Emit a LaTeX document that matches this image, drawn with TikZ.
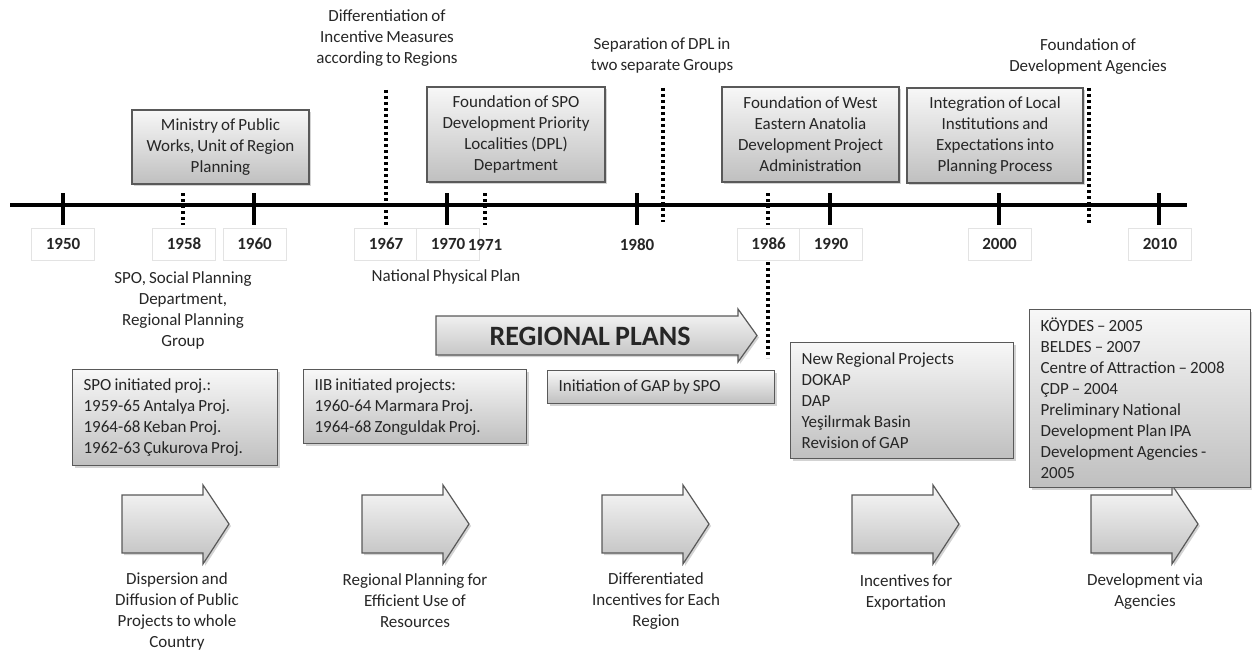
\documentclass[tikz,border=0pt]{standalone}
\usepackage{fontspec}
\setmainfont{Carlito}[WordSpace=0.8]
\usetikzlibrary{shadows}
\begin{document}
\begin{tikzpicture}[x=1pt,y=-1pt,
  every node/.style={font=\fontsize{17}{21}\selectfont, text=black!85},
  shade/.style={draw=black!65, line width=1.2pt, top color=gray!6, bottom color=gray!50,
    drop shadow={shadow xshift=2pt, shadow yshift=-2pt, opacity=.35}},
  gbox/.style={shade, inner sep=0pt, align=center},
  lbox/.style={shade, inner ysep=0pt, inner xsep=11pt, align=flush left, anchor=north west},
  yearbox/.style={draw=gray!22, fill=white, minimum width=63pt, minimum height=32pt, inner sep=0pt,
    font=\bfseries\fontsize{17}{21}\selectfont},
  yeartext/.style={inner sep=0pt, font=\bfseries\fontsize{17}{21}\selectfont},
  tickline/.style={line width=4pt, black},
  dotline/.style={line width=3.2pt, dash pattern=on 3pt off 3pt, black},
  barrow/.style={shade}
]
\useasboundingbox (0,0) rectangle (1252,650);

% axis
\draw[line width=4pt] (10,205) -- (1187,205);
\foreach \xx in {63,254,447,637,830,999,1159}
  \draw[tickline] (\xx,193) -- (\xx,225);

% dotted markers
\draw[dotline] (183,193) -- (183,225);
\draw[dotline] (386,90) -- (386,225);
\draw[dotline] (485,193) -- (485,225);
\draw[dotline] (663,88) -- (663,222);
\draw[dotline] (768,193) -- (768,225);
\draw[dotline] (768,262) -- (768,358);
\draw[dotline] (1089,88) -- (1089,225);

% year labels
\foreach \yr/\xx in {1950/63,1958/184,1960/254.5,1967/386,1970/448,1986/768.5,1990/831,2000/999.5,2010/1160}
  \node[yearbox] (y\yr) at (\xx,244) {\yr};
\node[yeartext] (y1971) at (485,245) {1971};
\node[yeartext] (y1980) at (637,245) {1980};

% free texts
\node[align=center, inner sep=0pt] (diff) at (387,38.5) {Differentiation of\\Incentive Measures\\according to Regions};
\node[align=center, inner sep=0pt] (sep) at (662,55.5) {Separation of DPL in\\two separate Groups};
\node[align=center, inner sep=0pt] (fda) at (1088,57) {Foundation of\\Development Agencies};
\node[align=center, inner sep=0pt] (spo) at (183,310) {SPO, Social Planning\\Department,\\Regional Planning\\Group};
\node[inner sep=0pt] (npp) at (446,277) {National Physical Plan};

% top boxes
\node[gbox, minimum width=177pt, minimum height=74pt] (mpw) at (220.5,147) {Ministry of Public\\Works, Unit of Region\\Planning};
\node[gbox, minimum width=178pt, minimum height=95pt] (fspo) at (516,134.5) {Foundation of SPO\\Development Priority\\Localities (DPL)\\Department};
\node[gbox, minimum width=177pt, minimum height=95pt] (west) at (810.5,134.5) {Foundation of West\\Eastern Anatolia\\Development Project\\Administration};
\node[gbox, minimum width=176pt, minimum height=95pt] (integ) at (995,135.5) {Integration of Local\\Institutions and\\Expectations into\\Planning Process};

% regional plans arrow
\path[barrow] (436,316) -- (738,316) -- (738,309) -- (757,335.5) -- (738,362) -- (738,355) -- (436,355) -- cycle;
\node[inner sep=0pt, font=\bfseries\fontsize{28}{32}\selectfont] (rp) at (590,336) {REGIONAL PLANS};

% lower boxes
\node[lbox, text width=183pt, minimum height=96pt] (spoproj) at (72,369) {SPO initiated proj.:\\1959-65 Antalya Proj.\\1964-68 Keban Proj.\\1962-63 Çukurova Proj.};
\node[lbox, text width=201pt, minimum height=74pt] (iib) at (303,369) {IIB initiated projects:\\1960-64 Marmara Proj.\\1964-68 Zonguldak Proj.};
\node[lbox, text width=205pt, minimum height=33pt] (gap) at (547,370) {Initiation of GAP by SPO};
\node[lbox, text width=201pt, minimum height=116pt] (nrp) at (790,342) {New Regional Projects\\DOKAP\\DAP\\Yeşilırmak Basin\\Revision of GAP};

% bottom arrows
\foreach \ax in {122,362,602,852,1091}
  \path[barrow] (\ax,495) -- ++(81,0) -- ++(0,-10) -- ++(26,39) -- ++(-26,40) -- ++(0,-11) -- ++(-81,0) -- cycle;

\node[lbox, text width=199pt, minimum height=178pt] (koy) at (1029,309) {KÖYDES – 2005\\BELDES – 2007\\Centre of Attraction – 2008\\ÇDP – 2004\\Preliminary National\\Development Plan IPA\\Development Agencies -\\2005};

% bottom captions
\node[align=center, inner sep=0pt] (c1) at (177,611.5) {Dispersion and\\Diffusion of Public\\Projects to whole\\Country};
\node[align=center, inner sep=0pt] (c2) at (415,601) {Regional Planning for\\Efficient Use of\\Resources};
\node[align=center, inner sep=0pt] (c3) at (656,601) {Differentiated\\Incentives for Each\\Region};
\node[align=center, inner sep=0pt] (c4) at (906,592) {Incentives for\\Exportation};
\node[align=center, inner sep=0pt] (c5) at (1145,592) {Development via\\Agencies};
\end{tikzpicture}
\end{document}
